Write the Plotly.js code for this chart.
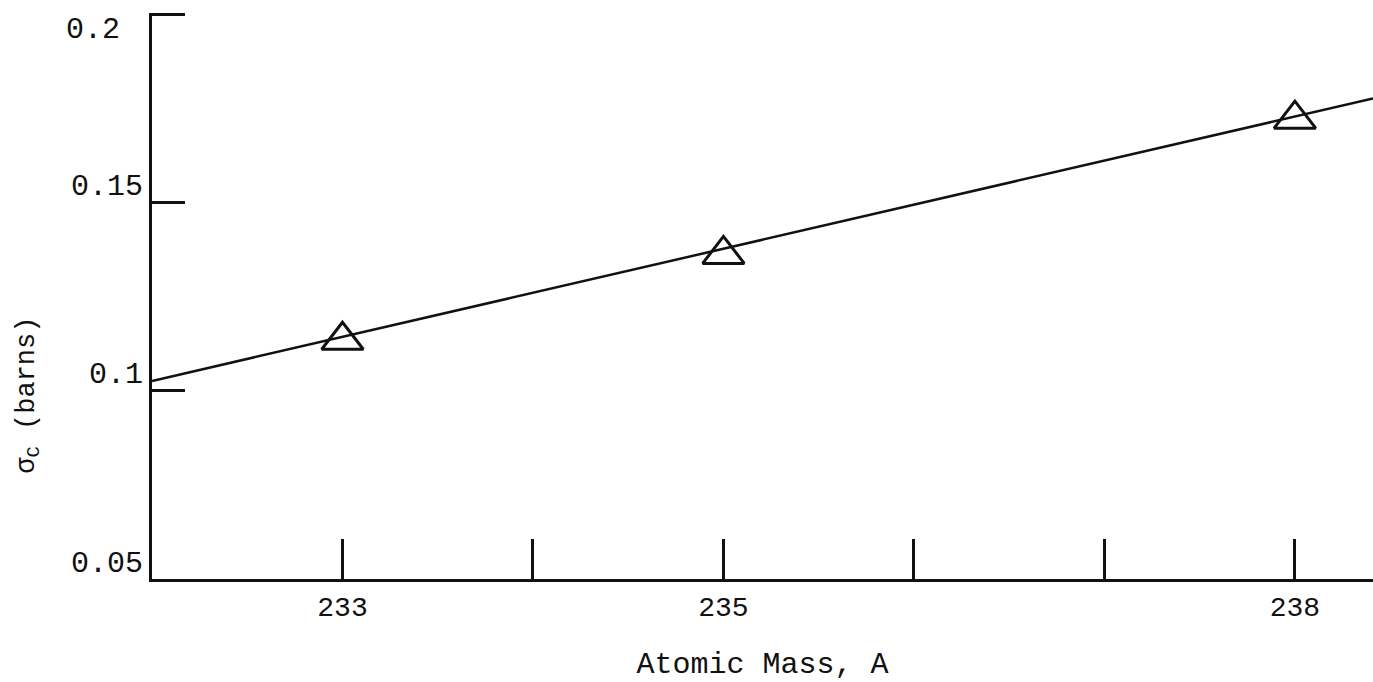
<!DOCTYPE html>
<html><head><meta charset="utf-8">
<script src="https://cdn.plot.ly/plotly-3.0.1.min.js"></script>
<style>html,body{margin:0;padding:0;background:#fff}</style>
</head><body>
<div id="chart" style="width:1373px;height:682px"></div>
<script>
// Data
const massNumbers = [233, 235, 238];
const captureXS = [0.1134, 0.1362, 0.1721];
const fitLineX = [232, 238.41];
const fitLineY = [0.1026, 0.1776];
const xTickVals = [233, 235, 238];
const xTickText = ['233', '235', '238'];
const xMinorTickVals = [234, 236, 237];
const yTickVals = [0.05, 0.1, 0.15];
const yTickText = ['0.05', '0.1', '0.15'];
const yTopTickVal = [0.2];
const yTopTickText = ['0.2'];

const ink = '#111';
const mono = '"Liberation Mono", "DejaVu Sans Mono", monospace';

const traces = [
  {x: fitLineX, y: fitLineY, mode: 'lines', line: {color: ink, width: 2.5},
   hoverinfo: 'skip', showlegend: false},
  {x: massNumbers, y: captureXS, mode: 'markers',
   marker: {symbol: 'triangle-up-open', size: 36, color: ink, line: {color: ink, width: 3}},
   showlegend: false},
  {x: fitLineX, y: fitLineY, yaxis: 'y2', mode: 'lines', opacity: 0,
   line: {width: 0}, hoverinfo: 'skip', showlegend: false}
];

const layout = {
  width: 1373, height: 682,
  margin: {l: 152, r: 0, t: 13, b: 103, pad: 0},
  paper_bgcolor: '#fff', plot_bgcolor: '#fff',
  font: {family: mono, color: ink, size: 28},
  xaxis: {
    range: [232, 238.41], tickmode: 'array', tickvals: xTickVals, ticktext: xTickText,
    ticks: 'inside', ticklen: 40, tickwidth: 3, tickcolor: ink,
    minor: {tickmode: 'array', tickvals: xMinorTickVals, ticks: 'inside', ticklen: 40,
            tickwidth: 3, tickcolor: ink, showgrid: false},
    showline: true, linewidth: 3, linecolor: ink,
    showgrid: false, zeroline: false,
    tickfont: {family: mono, size: 28, color: ink},
    ticklabelstandoff: 0,
    title: {text: 'Atomic Mass, A', font: {family: mono, size: 30, color: ink}, standoff: 36}
  },
  yaxis: {
    range: [0.05, 0.2003], tickmode: 'array', tickvals: yTickVals, ticktext: yTickText,
    ticks: 'inside', ticklen: 33, tickwidth: 3, tickcolor: ink,
    minor: {tickmode: 'array', tickvals: yTopTickVal, ticks: 'inside', ticklen: 33,
            tickwidth: 3, tickcolor: ink, showgrid: false},
    showline: true, linewidth: 3, linecolor: ink,
    showgrid: false, zeroline: false,
    tickfont: {family: mono, size: 30, color: ink},
    ticklabelshift: -18, ticklabelstandoff: 0
  },
  yaxis2: {
    overlaying: 'y', side: 'left',
    range: [0.05, 0.2003], tickmode: 'array', tickvals: yTopTickVal, ticktext: yTopTickText,
    ticks: '', showline: false, showgrid: false, zeroline: false,
    tickfont: {family: mono, size: 30, color: ink},
    ticklabelshift: 13, ticklabelstandoff: 31
  },
  annotations: [{
    xref: 'paper', yref: 'paper', x: -0.101, y: 0.325,
    xanchor: 'center', yanchor: 'middle', textangle: -90, showarrow: false,
    text: 'σ<sub>C</sub> (barns)', font: {family: mono, size: 27, color: ink}
  }]
};

Plotly.newPlot('chart', traces, layout, {displayModeBar: false, staticPlot: true});
</script>
</body></html>
